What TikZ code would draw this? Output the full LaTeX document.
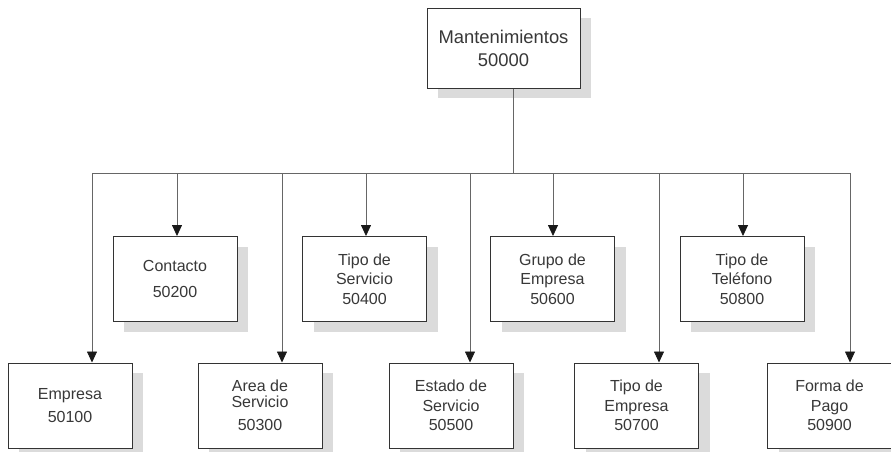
\documentclass[tikz,border=0pt]{standalone}
\usepackage{fontspec}
\setmainfont{Liberation Sans}
\usetikzlibrary{arrows.meta,shadows}
\begin{document}
\begin{tikzpicture}[
  x=1pt, y=-1pt,
  box/.style={draw=black!80,line width=1pt,fill=white,
    minimum width=124pt,minimum height=85pt,inner sep=2pt,align=center,
    text=black!78,font=\fontsize{16}{19.5}\selectfont,
    drop shadow={shadow xshift=11pt,shadow yshift=-10pt,fill=black!14,opacity=1}},
  top/.style={box,minimum width=153pt,minimum height=80pt,
    font=\fontsize{18.4}{23}\selectfont},
  link/.style={draw=black!60,line width=0.8pt},
  arr/.style={link,-{Triangle[width=10pt,length=11pt,color=black!90,fill=black!90]}}]
\useasboundingbox (0,0) rectangle (891,451);
% root
\node[top] (mant) at (503.5,48) {Mantenimientos\\50000};
% upper row
\node[box] (con)  at (175,279)   {Contacto\\[7pt]50200};
\node[box] (tser) at (364.5,279) {Tipo de\\Servicio\\50400};
\node[box] (grp)  at (552.5,279) {Grupo de\\Empresa\\50600};
\node[box] (ttel) at (742,279)   {Tipo de\\Tel\'efono\\50800};
% lower row
\node[box] (emp)  at (70,405.5)    {Empresa\\[3pt]50100};
\node[box] (area) at (260,405.5)   {Area de\\[-4pt]Servicio\\[4pt]50300};
\node[box] (est)  at (451,405.5)   {Estado de\\Servicio\\50500};
\node[box] (temp) at (636.5,405.5) {Tipo de\\Empresa\\50700};
\node[box] (fpag) at (829.5,405.5) {Forma de\\Pago\\50900};
% connectors
\coordinate (bus) at (513,173);
\draw[link] (mant.south -| bus) -- (bus);
\draw[link] ([xshift=22pt]emp.north |- bus) -- ([xshift=20.5pt]fpag.north |- bus);
\foreach \n/\dx in {emp/22,con/2,area/22,tser/1.5,est/19,grp/0.5,temp/22.5,ttel/1,fpag/20.5}
  \draw[arr] ([xshift=\dx pt]\n.north |- bus) -- ([xshift=\dx pt]\n.north);
\end{tikzpicture}
\end{document}
